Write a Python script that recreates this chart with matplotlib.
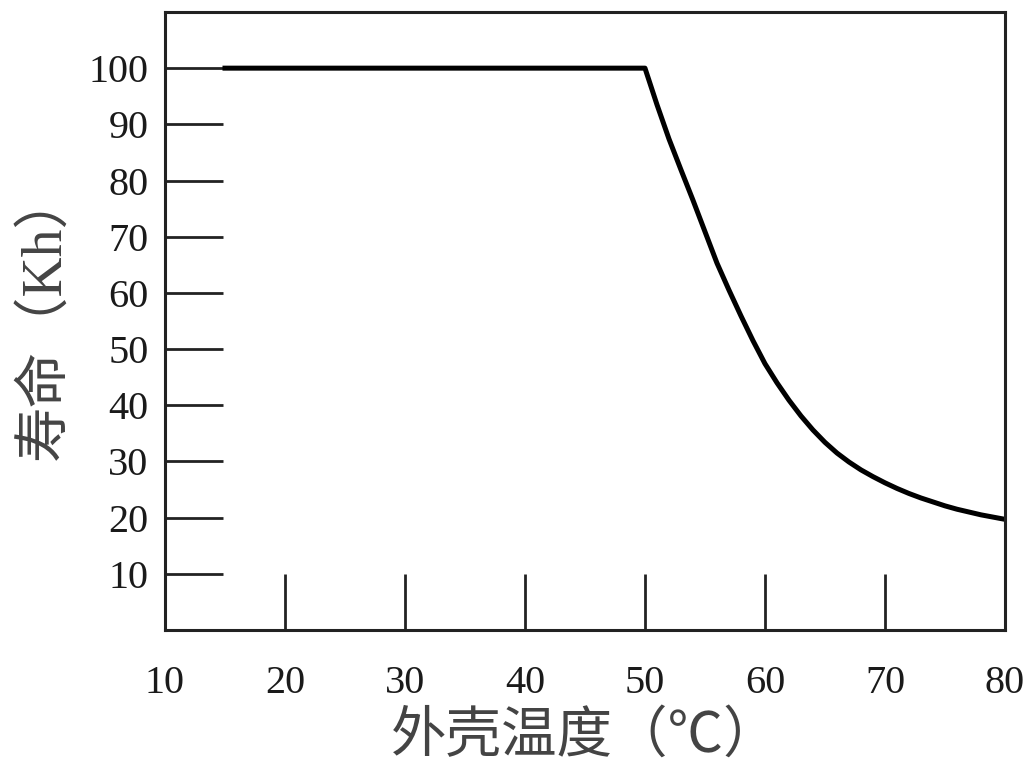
import numpy as np
import matplotlib
matplotlib.use("Agg")
import matplotlib.pyplot as plt

# values
temp = [15, 50, 51, 52, 53, 54, 55, 56, 57, 58, 59, 60, 61, 62, 63, 64, 65,
        66, 67, 68, 69, 70, 71, 72, 73, 74, 75, 76, 77, 78, 79, 80]
life = [100, 100, 93.5, 87.4, 81.9, 76.5, 70.9, 65.3, 60.5, 55.9, 51.5, 47.4,
        44.0, 40.9, 38.1, 35.6, 33.4, 31.5, 29.9, 28.5, 27.3, 26.2, 25.2, 24.3,
        23.5, 22.8, 22.1, 21.5, 21.0, 20.5, 20.1, 19.7]
xticks = [10, 20, 30, 40, 50, 60, 70, 80]
yticks = [10, 20, 30, 40, 50, 60, 70, 80, 90, 100]
xlabel = "外壳温度（℃）"
ylabel = "寿命（Kh）"

fams = ["Liberation Serif", "Noto Sans CJK SC", "DejaVu Sans"]

fig = plt.figure(figsize=(10.28, 7.62), dpi=100)
ax = fig.add_axes([0.1605, 0.1732, 0.8171, 0.8111])

ax.plot(temp, life, color="black", lw=3.6, solid_joinstyle="round")

ax.set_xlim(10, 80)
ax.set_ylim(0, 110)
ax.set_xticks(xticks)
ax.set_yticks(yticks)
ax.tick_params(direction="in", width=2.0, color="#222222")
ax.tick_params(axis="y", length=42, pad=12)
ax.tick_params(axis="x", length=40, pad=25)
for lab in ax.get_xticklabels() + ax.get_yticklabels():
    lab.set_family(fams)
    lab.set_fontsize(29)
    lab.set_color("#1a1a1a")

for s in ax.spines.values():
    s.set_linewidth(2.2)
    s.set_color("#222222")

ax.set_xlabel(xlabel, family=fams, fontsize=40, color="#444444", va="center")
ax.xaxis.set_label_coords(0.5, -0.174)
ax.set_ylabel(ylabel, family=fams, fontsize=40, color="#444444", va="center")
ax.yaxis.set_label_coords(-0.143, 0.51)

fig.savefig("out.png", dpi=100)
